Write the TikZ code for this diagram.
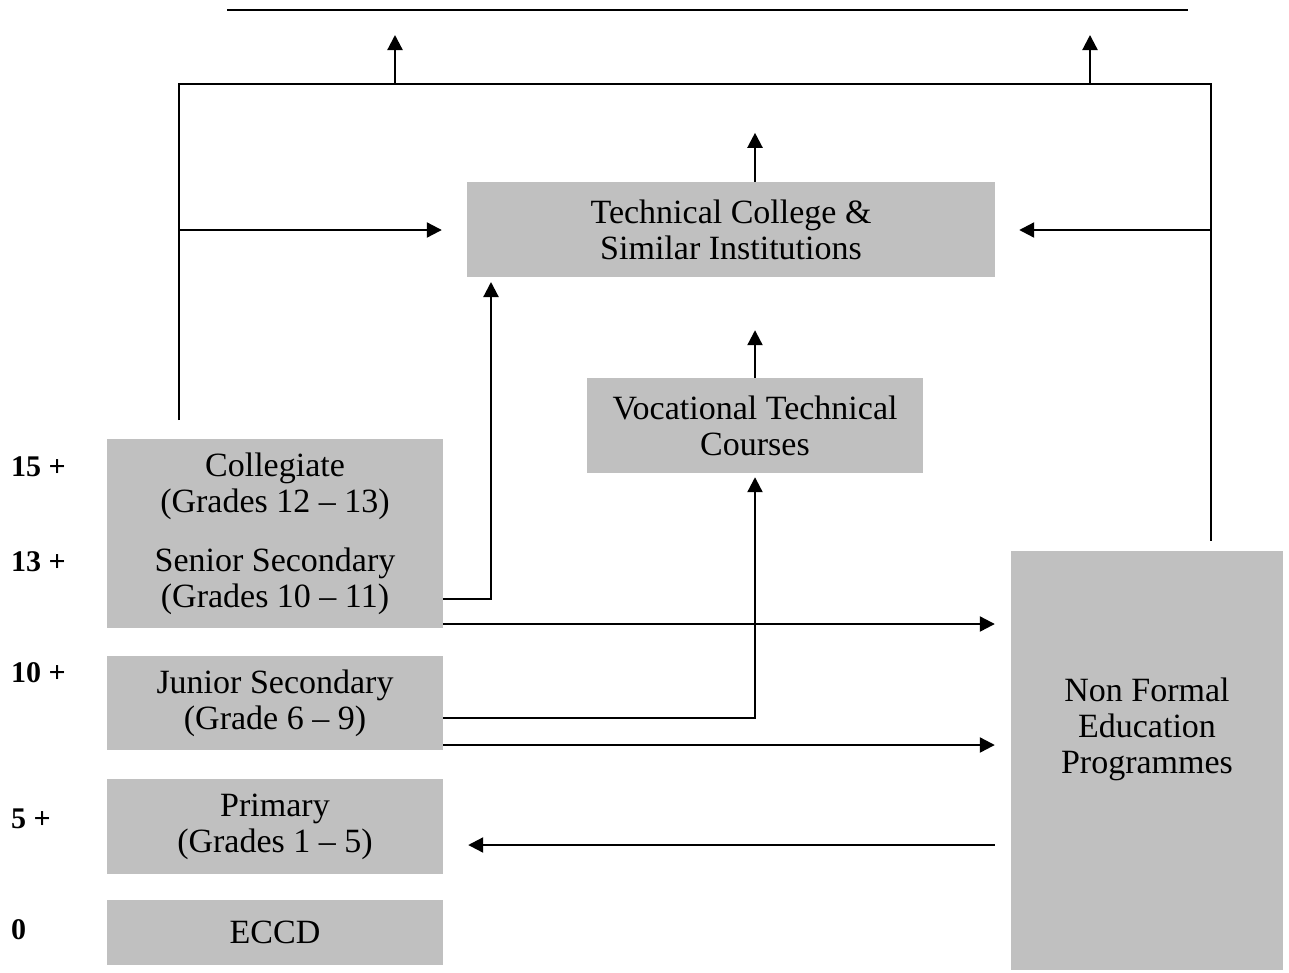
\documentclass[tikz,border=0pt]{standalone}
\usepackage{fontspec}
\setmainfont{Liberation Serif}
\usetikzlibrary{arrows.meta}
\definecolor{boxgray}{HTML}{C0C0C0}
\begin{document}
\begin{tikzpicture}[x=1pt,y=-1pt,
  box/.style={fill=boxgray, draw=none, inner sep=0pt, align=center, font=\fontsize{34}{36}\selectfont},
  conn/.style={line width=2.2pt},
  arr/.style={conn, -{Triangle[length=15pt,width=15pt]}},
  agelbl/.style={anchor=west, inner sep=0pt, font=\fontsize{30}{34}\selectfont\bfseries}]
\useasboundingbox (0,0) rectangle (1289,972);

% boxes
\node[box, minimum width=528, minimum height=95] (tc) at (731,229.5) {Technical College \&\\Similar Institutions};
\node[box, minimum width=336, minimum height=95] (vt) at (755,425.5) {Vocational Technical\\Courses};
\node[box, minimum width=336, minimum height=189] (cs) at (275,533.5) {Collegiate\\(Grades 12 -- 13)\\[23pt]Senior Secondary\\(Grades 10 -- 11)};
\node[box, minimum width=336, minimum height=94] (js) at (275,703) {Junior Secondary\\(Grade 6 -- 9)};
\node[box, minimum width=336, minimum height=95] (pr) at (275,826.5) {Primary\\(Grades 1 -- 5)};
\node[box, minimum width=336, minimum height=65] (ec) at (275,932.5) {ECCD};
\node[box, minimum width=272, minimum height=419] (nfe) at (1147,760.5) {};
\node[box, fill=none] (nfet) at (1147,729) {Non Formal\\Education\\Programmes};

% age labels
\node[agelbl] (a15) at (11,467) {15 +};
\node[agelbl] (a13) at (11,562) {13 +};
\node[agelbl] (a10) at (11,673) {10 +};
\node[agelbl] (a5) at (11,819) {5 +};
\node[agelbl] (a0) at (11,930) {0};

% frame coordinates
\coordinate (tl) at (227,10);
\coordinate (tr) at (1188,10);
\coordinate (fl) at (179,420);
\coordinate (fr) at (1211,541);
\coordinate (ftl) at (179,84);
\coordinate (ftr) at (1211,84);
\coordinate (upl) at (395,84);
\coordinate (upr) at (1090,84);
\coordinate (lj) at (179,230);
\coordinate (rj) at (1211,230);

% top line and frame
\draw[conn] (tl) -- (tr);
\draw[conn, line join=miter] (fl) -- (ftl) -- (ftr) -- (fr);
\draw[arr] (upl) -- ++(0,-49);
\draw[arr] (upr) -- ++(0,-49);

% into technical college
\draw[arr, shorten >=25pt] (lj) -- (tc.west |- lj);
\draw[arr, shorten >=24pt] (rj) -- (tc.east |- rj);
\draw[arr] (tc.north -| vt.north) -- ++(0,-49);
\draw[arr, shorten >=53pt] (vt.north) -- (vt.north |- tc.south);
\draw[arr, shorten >=5pt] (cs.east |- 0,599) -- (491,599) -- (491 ,277);

% to non formal
\draw[arr, shorten >=16pt] (cs.east |- 0,624) -- (nfe.west |- 0,624);
\draw[arr, shorten >=4pt] (js.east |- 0,718) -| (vt.south);
\draw[arr, shorten >=16pt] (js.east |- 0,745) -- (nfe.west |- 0,745);
\draw[arr, shorten <=16pt, shorten >=25pt] (nfe.west |- 0,845) -- (pr.east |- 0,845);
\end{tikzpicture}
\end{document}
